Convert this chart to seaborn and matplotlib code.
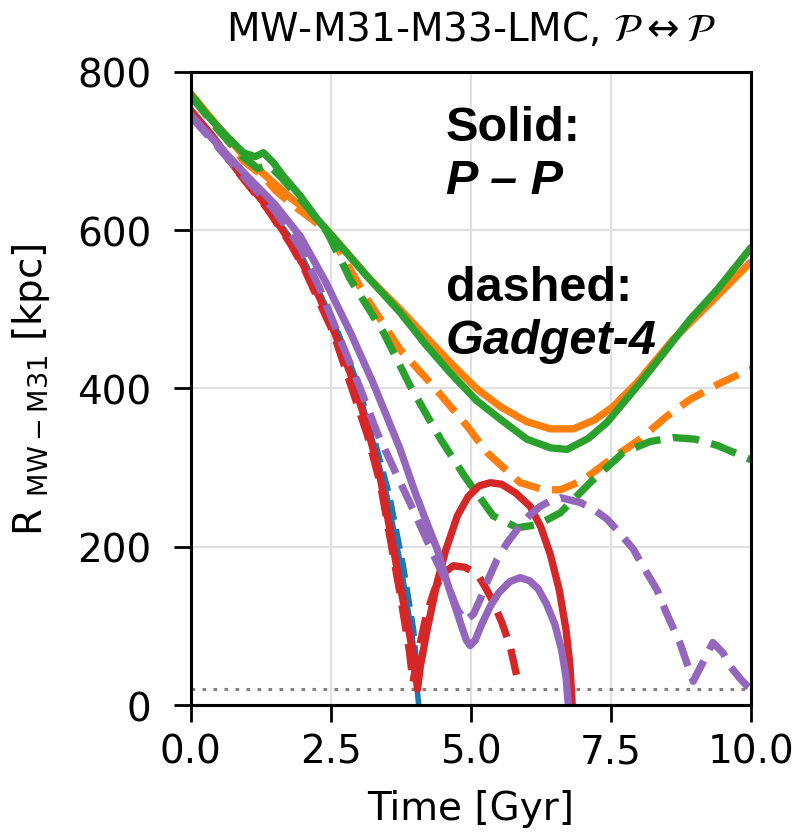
import numpy as np
import pandas as pd
import matplotlib
matplotlib.use("Agg")
import matplotlib.pyplot as plt
import seaborn as sns

# ---------------- data ----------------
# Solid: P - P ; dashed: Gadget-4
blue_solid_t = [0.0, 0.4, 0.84, 1.37, 1.78, 2.01, 2.55, 2.9, 3.21, 3.5, 3.74, 3.95, 4.07]
blue_solid_r = [750, 716, 675, 630, 590, 563, 484, 420, 344, 265, 180, 90, 0]

blue_dash_t = [0.0, 0.4, 0.84, 1.37, 1.78, 2.01, 2.6, 2.95, 3.25, 3.55, 3.8, 3.98, 4.06]
blue_dash_r = [748, 714, 673, 628, 588, 561, 477, 412, 344, 265, 175, 95, 30]

orange_solid_t = [0.0, 0.5, 1.0, 1.4, 1.8, 2.2, 2.6, 3.16, 3.74, 4.2, 4.63, 5.1, 5.53, 6.0,
                  6.42, 6.83, 7.2, 7.54, 8.0, 8.61, 9.3, 10.0]
orange_solid_r = [773, 730, 690, 665, 640, 618, 587, 541, 500, 465, 433, 400, 377, 358,
                  349, 349, 360, 377, 410, 462, 510, 560]

orange_dash_t = [0.0, 0.5, 0.94, 1.3, 1.52, 1.8, 2.2, 2.5, 3.16, 3.74, 4.33, 4.94, 5.29, 5.88,
                 6.3, 6.6, 7.0, 7.43, 8.02, 8.5, 8.91, 9.4, 10.0]
orange_dash_r = [772, 728, 688, 668, 650, 633, 612, 593, 512, 449, 403, 352, 319, 281,
                 272, 272, 284, 307, 336, 365, 386, 405, 425]

green_solid_t = [0.0, 0.3, 0.6, 0.94, 1.15, 1.3, 1.48, 1.66, 1.96, 2.26, 2.62, 3.16, 3.74, 4.2,
                 4.63, 5.1, 5.53, 6.0, 6.42, 6.72, 7.1, 7.43, 8.02, 8.5, 8.91, 9.4, 10.0]
green_solid_r = [772, 745, 722, 698, 693, 698, 685, 668, 643, 614, 585, 541, 496, 455,
                 420, 385, 361, 336, 325, 323, 337, 357, 407, 450, 487, 525, 578]

green_dash_t = [0.0, 0.5, 0.94, 1.2, 1.4, 1.6, 1.8, 2.1, 2.44, 2.85, 3.44, 3.92, 4.46, 4.9,
                5.4, 5.83, 6.2, 6.6, 7.13, 7.72, 8.2, 8.61, 9.0, 9.4, 10.0]
green_dash_r = [770, 726, 692, 678, 682, 668, 652, 628, 597, 538, 471, 403, 336, 288,
                239, 224, 228, 243, 281, 319, 333, 338, 336, 328, 310]

red_solid_t = [0.0, 0.4, 0.84, 1.37, 1.78, 2.01, 2.3, 2.55, 2.9, 3.16, 3.39, 3.6, 3.74, 3.88,
               3.98, 4.05, 4.1, 4.22, 4.4, 4.55, 4.76, 4.95, 5.15, 5.35, 5.55, 5.8, 6.06,
               6.25, 6.42, 6.58, 6.7, 6.77, 6.81]
red_solid_r = [752, 718, 676, 629, 585, 556, 515, 474, 410, 350, 285, 205, 150, 100,
               60, 20, 49, 95, 155, 195, 239, 263, 277, 281, 279, 268, 251,
               225, 190, 145, 95, 50, 0]

red_dash_t = [0.0, 0.4, 0.84, 1.37, 1.78, 2.01, 2.55, 3.16, 3.39, 3.74, 3.9, 3.97, 4.05, 4.2,
              4.35, 4.5, 4.69, 4.9, 5.11, 5.25, 5.4, 5.55, 5.7, 5.86]
red_dash_r = [750, 716, 674, 627, 583, 554, 470, 340, 278, 140, 70, 29, 62, 112,
              145, 166, 176, 174, 166, 150, 130, 105, 75, 24]

purple_solid_t = [0.0, 0.5, 1.0, 1.5, 1.96, 2.4, 2.85, 3.25, 3.62, 3.74, 4.0, 4.2, 4.4, 4.6,
                  4.81, 4.92, 4.99, 5.08, 5.2, 5.35, 5.5, 5.7, 5.88, 6.05, 6.2, 6.35, 6.5,
                  6.62, 6.7, 6.74]
purple_solid_r = [746, 707, 669, 633, 592, 536, 471, 408, 344, 323, 270, 233, 197, 150,
                  105, 82, 75, 82, 103, 125, 142, 156, 161, 157, 147, 128, 102,
                  70, 35, 0]

purple_dash_t = [0.0, 0.5, 1.0, 1.5, 1.96, 2.3, 2.62, 3.0, 3.33, 3.65, 3.97, 4.3, 4.6, 4.76,
                 4.9, 5.05, 5.17, 5.3, 5.47, 5.65, 5.83, 6.05, 6.24, 6.42, 6.6, 6.95, 7.2,
                 7.43, 7.65, 7.9, 8.1, 8.32, 8.5, 8.73, 8.97, 9.15, 9.32, 9.5, 9.63, 9.8,
                 9.93, 10.0]
purple_dash_r = [744, 704, 664, 625, 578, 527, 471, 405, 344, 295, 247, 195, 150, 121,
                 106, 115, 134, 157, 184, 205, 222, 240, 251, 258, 262, 256, 247,
                 235, 218, 197, 172, 146, 115, 79, 30, 55, 79, 66, 49, 34,
                 24, 20]

merger_radius = 20  # kpc, dotted reference line

series = [
    ("tab:blue", "solid", blue_solid_t, blue_solid_r),
    ("tab:blue", "dashed", blue_dash_t, blue_dash_r),
    ("tab:orange", "solid", orange_solid_t, orange_solid_r),
    ("tab:orange", "dashed", orange_dash_t, orange_dash_r),
    ("tab:green", "solid", green_solid_t, green_solid_r),
    ("tab:green", "dashed", green_dash_t, green_dash_r),
    ("tab:red", "solid", red_solid_t, red_solid_r),
    ("tab:red", "dashed", red_dash_t, red_dash_r),
    ("tab:purple", "solid", purple_solid_t, purple_solid_r),
    ("tab:purple", "dashed", purple_dash_t, purple_dash_r),
]

# ---------------- figure ----------------
sns.set_theme(style="whitegrid")
plt.rcParams["font.family"] = ["DejaVu Sans"]
plt.rcParams["mathtext.fontset"] = "dejavusans"

fig = plt.figure(figsize=(8.01, 8.37), dpi=100)
ax = fig.add_axes([0.238, 0.1565, 0.6995, 0.7563])

for color, style, t, r in series:
    df = pd.DataFrame({"t": t, "r": r})
    ls = "-" if style == "solid" else (0, (3.6, 1.7))
    lw = 4.0 if color == "tab:blue" else 5.3
    sns.lineplot(data=df, x="t", y="r", ax=ax, color=color, linestyle=ls,
                 linewidth=lw, sort=False, estimator=None)

ax.axhline(merger_radius, color="gray", linestyle=(0, (1.2, 2.4)), linewidth=2.2, zorder=1)

ax.set_xlim(0, 10)
ax.set_ylim(0, 800)
ax.set_xticks([0, 2.5, 5, 7.5, 10])
ax.set_xticklabels(["0.0", "2.5", "5.0", "7.5", "10.0"])
ax.set_yticks([0, 200, 400, 600, 800])

ax.grid(True, color="#e0e0e0", linewidth=1.6)
for s in ax.spines.values():
    s.set_color("black")
    s.set_linewidth(2.2)
ax.tick_params(axis="both", which="major", direction="out", length=12, width=2,
               color="black", labelsize=28, labelcolor="black", left=True, bottom=True)
ax.tick_params(axis="y", pad=16)
ax.tick_params(axis="x", pad=8)

ax.set_xlabel("Time [Gyr]", fontsize=28, color="black", labelpad=13)
ax.set_ylabel(r"R $_{\rm MW-M31}$ [kpc]", fontsize=28, color="black", labelpad=18)
ax.set_title(r"MW-M31-M33-LMC, $\mathcal{P} \leftrightarrow \mathcal{P}$",
             fontsize=28, color="black", pad=23)

txt_kw = dict(fontsize=35, color="black", family=["Liberation Sans"], fontweight="bold")
ax.text(4.55, 714, "Solid:", **txt_kw)
ax.text(4.55, 647, "P – P", style="italic", **txt_kw)
ax.text(4.55, 512, "dashed:", **txt_kw)
ax.text(4.55, 445, "Gadget-4", style="italic", **txt_kw)

fig.savefig("out.png", dpi=100)
